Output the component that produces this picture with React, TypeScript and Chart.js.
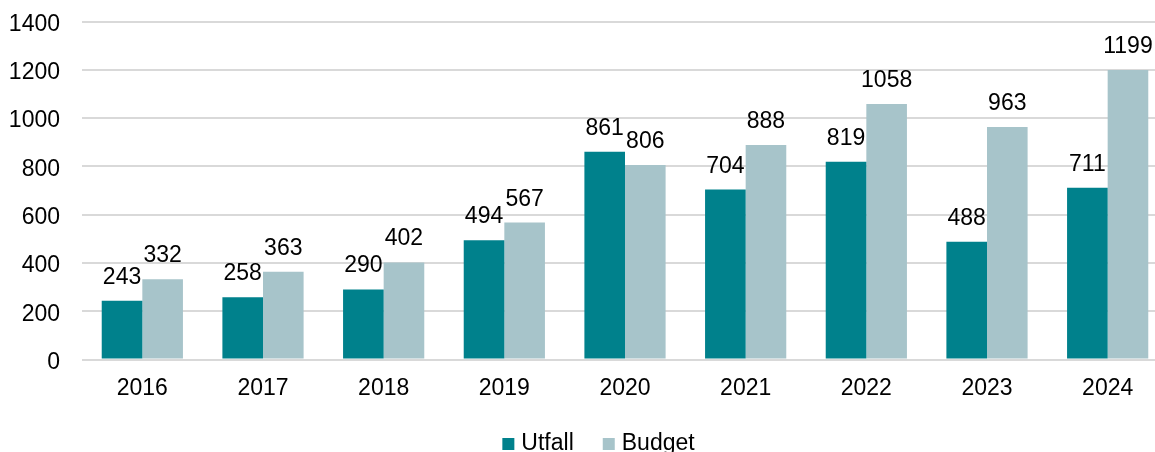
import React, { useEffect, useRef } from "react";
import { Chart, registerables } from "chart.js";

Chart.register(...registerables);

const categories = ["2016", "2017", "2018", "2019", "2020", "2021", "2022", "2023", "2024"];
const utfall = [243, 258, 290, 494, 861, 704, 819, 488, 711];
const budget = [332, 363, 402, 567, 806, 888, 1058, 963, 1199];
const seriesNames = ["Utfall", "Budget"];
const seriesColors = ["#00818C", "#A7C4CA"];

const FONT = "'Liberation Sans', Arial, sans-serif";
const FS = 23;

const valueLabels = {
  id: "valueLabels",
  afterDatasetsDraw(chart: any) {
    const ctx = chart.ctx;
    ctx.save();
    ctx.font = `${FS}px ${FONT}`;
    ctx.fillStyle = "#000";
    ctx.textAlign = "center";
    ctx.textBaseline = "alphabetic";
    chart.data.datasets.forEach((ds: any, i: number) => {
      const meta = chart.getDatasetMeta(i);
      meta.data.forEach((el: any, j: number) => {
        ctx.fillText(String(ds.data[j]), el.x, el.y - 17);
      });
    });
    ctx.restore();
  },
};

const customLegend = {
  id: "customLegend",
  afterDraw(chart: any) {
    const ctx = chart.ctx;
    ctx.save();
    ctx.font = `${FS}px ${FONT}`;
    const box = 12;
    const gap = 7;
    const spacing = 29;
    const widths = seriesNames.map((n) => box + gap + ctx.measureText(n).width);
    const total = widths.reduce((a, b) => a + b, 0) + spacing * (widths.length - 1);
    let x = chart.width / 2 - total / 2;
    const baseline = 450;
    ctx.textBaseline = "alphabetic";
    ctx.textAlign = "left";
    seriesNames.forEach((n, i) => {
      ctx.fillStyle = seriesColors[i];
      ctx.fillRect(x, baseline - box, box, box);
      ctx.fillStyle = "#000";
      ctx.fillText(n, x + box + gap, baseline);
      x += widths[i] + spacing;
    });
    ctx.restore();
  },
};

export default function App() {
  const ref = useRef<HTMLCanvasElement>(null);
  useEffect(() => {
    if (!ref.current) return;
    const chart = new Chart(ref.current, {
      type: "bar",
      data: {
        labels: categories,
        datasets: [
          { label: seriesNames[0], data: utfall, backgroundColor: seriesColors[0], categoryPercentage: 0.673, barPercentage: 1 },
          { label: seriesNames[1], data: budget, backgroundColor: seriesColors[1], categoryPercentage: 0.673, barPercentage: 1 },
        ],
      },
      options: {
        animation: false,
        responsive: false,
        maintainAspectRatio: false,
        layout: { padding: { top: 21.5, right: 29, bottom: 0, left: 0 } },
        plugins: { legend: { display: false }, tooltip: { enabled: false } },
        scales: {
          x: {
            grid: { display: false, drawTicks: false },
            border: { display: false },
            ticks: { color: "#000", font: { family: FONT, size: FS }, padding: 15, maxRotation: 0 },
            afterFit: (s: any) => {
              s.height = 92.5;
              s.paddingLeft = 0;
              s.paddingRight = 0;
            },
          },
          y: {
            min: 0,
            max: 1400,
            grid: { color: "#d9d9d9", lineWidth: 2, drawTicks: false },
            border: { display: false },
            ticks: {
              stepSize: 200,
              color: "#000",
              font: { family: FONT, size: FS },
              padding: 22,
              labelOffset: 3,
              callback: (v: any) => String(v),
            },
            afterFit: (s: any) => {
              s.width = 82;
              s.paddingTop = 0;
              s.paddingBottom = 0;
            },
          },
        },
      },
      plugins: [valueLabels, customLegend],
    });
    return () => chart.destroy();
  }, []);
  return (
    <div style={{ position: "fixed", left: 0, top: 0, width: 1155, height: 452, overflow: "hidden", background: "#fff" }}>
      <canvas ref={ref} width={1197} height={452} style={{ width: 1197, height: 452, display: "block" }} />
    </div>
  );
}
